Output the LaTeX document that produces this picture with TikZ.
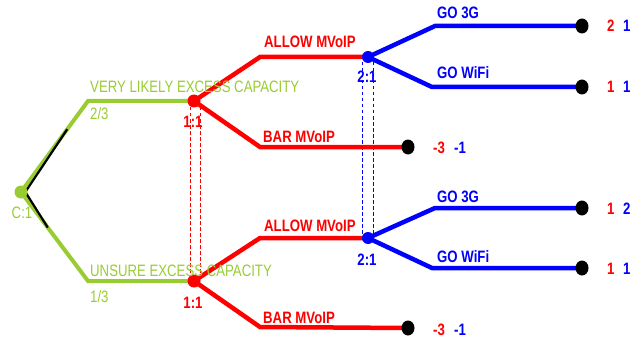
\documentclass[tikz,border=0pt]{standalone}
\usepackage{fontspec}
\setmainfont{Liberation Sans}[FakeStretch=0.8]
\usetikzlibrary{calc,shapes.geometric}
\definecolor{chgreen}{RGB}{153,204,51}
\definecolor{plred}{RGB}{255,0,0}
\definecolor{plblue}{RGB}{0,0,255}
\tikzset{
  branch/.style={line width=4.5pt},
  greenbranch/.style={branch,chgreen,line width=4pt},
  redbranch/.style={branch,plred},
  bluebranch/.style={branch,plblue},
  infoset/.style={line width=0.8pt,dash pattern=on 3.5pt off 2.5pt},
  dotnode/.style={circle,inner sep=0pt,minimum size=13pt},
  leafnode/.style={ellipse,inner sep=0pt,minimum width=13pt,minimum height=15pt,fill=black},
  lbl/.style={inner sep=0pt,font=\fontsize{16.5}{19}\selectfont},
  blbl/.style={lbl,font=\fontsize{16.5}{19}\selectfont\bfseries},
}
\begin{document}
\begin{tikzpicture}[x=1pt,y=-1pt]
\useasboundingbox (0,0) rectangle (639,342);
% decision points
\coordinate (root) at (21,192);
\coordinate (v1) at (194,101);
\coordinate (v2) at (194,281);
\coordinate (b1) at (368,57);
\coordinate (b2) at (368,238);
% leaves
\coordinate (t1) at (582,26);
\coordinate (t2) at (582,87);
\coordinate (t3) at (408,147);
\coordinate (t4) at (582,208);
\coordinate (t5) at (582,268);
\coordinate (t6) at (408,328);
% elbows
\coordinate (gu) at (88,101);
\coordinate (gl) at (88,281);
\coordinate (ru1) at (260,57);
\coordinate (rd1) at (260,147);
\coordinate (ru2) at (260,238);
\coordinate (rd2) at (260,327);
\coordinate (bu1) at (435,26);
\coordinate (bd1) at (432,87);
\coordinate (bu2) at (435,208);
\coordinate (bd2) at (432,268);

% information sets
\draw[infoset,plred] ($(v1)+(-4,6)$) -- ($(v2)+(-4,-4)$);
\draw[infoset,plred] ($(v1)+(6,6)$) -- ($(v2)+(6,-4)$);
\draw[infoset,plblue] ($(b1)+(-6,5)$) -- ($(b2)+(-6,-4)$);
\draw[infoset,plblue] ($(b1)+(5,5)$) -- ($(b2)+(5,-4)$);

% chance moves
\draw[greenbranch] (root) -- (gu) -- (v1);
\draw[greenbranch] (root) -- (gl) -- (v2);
\draw[black,line width=2.2pt] ($(root)+(5,-1)$) -- ($(root)!0.69!(gu)$);
\draw[black,line width=2.2pt] ($(root)+(5,1)$) -- ($(root)!0.40!(gl)$);

% red player
\draw[redbranch] (v1) -- (ru1) -- (b1);
\draw[redbranch] (v1) -- (rd1) -- (t3);
\draw[redbranch] (v2) -- (ru2) -- (b2);
\draw[redbranch] (v2) -- (rd2) -- (t6);

% blue player
\draw[bluebranch] (b1) -- (bu1) -- (t1);
\draw[bluebranch] (b1) -- (bd1) -- (t2);
\draw[bluebranch] (b2) -- (bu2) -- (t4);
\draw[bluebranch] (b2) -- (bd2) -- (t5);

% dots
\node[dotnode,fill=chgreen] (nroot) at (root) {};
\node[dotnode,fill=plred] (nv1) at (v1) {};
\node[dotnode,fill=plred] (nv2) at (v2) {};
\node[dotnode,fill=plblue,minimum size=12pt] (nb1) at (b1) {};
\node[dotnode,fill=plblue,minimum size=12pt] (nb2) at (b2) {};
\foreach \t in {t1,t2,t3,t4,t5,t6}
  \node[leafnode] (n\t) at (\t) {};

% chance labels
\node[lbl,chgreen,anchor=base] (lc) at (22,218) {C:1};
\node[lbl,chgreen,anchor=base west] (lvl) at (90,93) {VERY LIKELY EXCESS CAPACITY};
\node[lbl,chgreen,anchor=base west] (lp1) at (90,120) {2/3};
\node[lbl,chgreen,anchor=base west] (lun) at (90,276) {UNSURE EXCESS CAPACITY};
\node[lbl,chgreen,anchor=base west] (lp2) at (90,302) {1/3};

% red labels
\node[blbl,plred,anchor=base] (lv1) at (193,127) {1:1};
\node[blbl,plred,anchor=base] (lv2) at (193,308) {1:1};
\node[blbl,plred,anchor=base west] (la1) at (264,48) {ALLOW MVoIP};
\node[blbl,plred,anchor=base west] (lb1) at (263,142) {BAR MVoIP};
\node[blbl,plred,anchor=base west] (la2) at (264,231) {ALLOW MVoIP};
\node[blbl,plred,anchor=base west] (lb2) at (263,323) {BAR MVoIP};

% blue labels
\node[blbl,plblue,anchor=base] (lbn1) at (367,83) {2:1};
\node[blbl,plblue,anchor=base] (lbn2) at (367,265) {2:1};
\node[blbl,plblue,anchor=base west] (lg1) at (437,19) {GO 3G};
\node[blbl,plblue,anchor=base west] (lw1) at (437,79) {GO WiFi};
\node[blbl,plblue,anchor=base west] (lg2) at (437,202) {GO 3G};
\node[blbl,plblue,anchor=base west] (lw2) at (437,262) {GO WiFi};

% payoffs
\node[blbl,plred,anchor=base west] (p1a) at (607,32) {2};
\node[blbl,plblue,anchor=base west] (p1b) at (623,32) {1};
\node[blbl,plred,anchor=base west] (p2a) at (607,93) {1};
\node[blbl,plblue,anchor=base west] (p2b) at (623,93) {1};
\node[blbl,plred,anchor=base west] (p3a) at (433,153) {-3};
\node[blbl,plblue,anchor=base west] (p3b) at (454,153) {-1};
\node[blbl,plred,anchor=base west] (p4a) at (607,214) {1};
\node[blbl,plblue,anchor=base west] (p4b) at (623,214) {2};
\node[blbl,plred,anchor=base west] (p5a) at (607,274) {1};
\node[blbl,plblue,anchor=base west] (p5b) at (623,274) {1};
\node[blbl,plred,anchor=base west] (p6a) at (433,335) {-3};
\node[blbl,plblue,anchor=base west] (p6b) at (454,335) {-1};
\end{tikzpicture}
\end{document}
